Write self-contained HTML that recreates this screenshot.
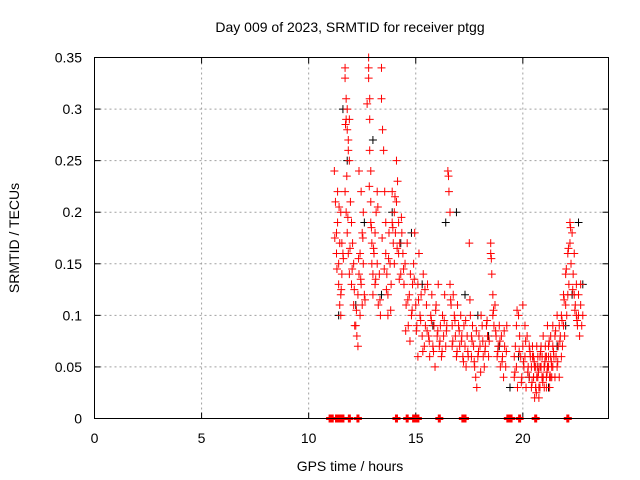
<!DOCTYPE html>
<html><head><meta charset="utf-8"><style>
body{margin:0;background:#fff;}
svg{display:block;font-family:"Liberation Sans",sans-serif;}
</style></head><body>
<svg id="chart" width="640" height="480">
<text x="350" y="32" text-anchor="middle" font-size="14">Day 009 of 2023, SRMTID for receiver ptgg</text>
<text x="350" y="471" text-anchor="middle" font-size="14">GPS time / hours</text>
<text transform="translate(19,238) rotate(-90)" text-anchor="middle" font-size="14">SRMTID / TECUs</text>
<g id="grid"></g><g id="ticks"></g><g id="black"></g><g id="red"></g>
<rect x="94.5" y="57.5" width="514" height="361" fill="none" stroke="#000"/>
</svg>
<script>
const xTicks=[0,5,10,15,20];
const yTicks=[0,0.05,0.1,0.15,0.2,0.25,0.3,0.35];
const yTickLabels=["0","0.05","0.1","0.15","0.2","0.25","0.3","0.35"];
const zeroTimes=[11.0,11.05,11.1,11.3,11.35,11.4,11.5,11.6,11.9,12.3,14.1,14.6,14.9,15.0,15.1,16.1,17.2,17.3,19.3,19.35,19.4,19.45,19.85,20.6,22.1];
const redTimes=[
11.2,11.25,11.3,11.3,11.35,11.4,11.4,11.45,11.5,11.5,11.55,11.6,11.35,11.45,11.5,11.55,
11.7,11.7,11.75,11.75,11.8,11.8,11.85,11.85,11.9,11.9,11.7,11.75,11.8,11.85,11.9,11.95,12.0,12.0,12.05,12.1,12.1,12.15,
12.2,12.25,12.3,12.3,12.35,12.4,12.4,12.45,12.5,12.5,12.55,12.6,12.35,12.45,12.55,
12.8,12.8,12.8,12.85,12.85,12.85,12.9,12.9,12.9,12.95,12.95,13.0,13.0,13.05,13.1,13.1,13.15,13.2,13.2,13.25,13.3,
13.35,13.4,13.4,13.45,13.5,13.55,13.6,13.6,13.65,13.7,13.7,13.75,13.8,13.85,
13.9,13.9,13.95,14.0,14.0,14.05,14.1,14.1,14.15,14.2,14.2,14.25,14.3,14.35,14.4,14.45,14.5,14.55,14.6,14.65,14.7,14.75,14.8,14.85,
14.9,14.95,15.0,15.05,15.1,15.1,15.15,15.2,15.25,15.3,15.35,15.4,15.45,15.5,15.55,15.6,15.65,15.7,15.75,15.8,15.85,15.9,
15.95,16.0,16.05,16.1,16.15,16.2,16.25,16.3,16.35,16.4,16.45,
16.5,16.55,16.6,16.6,16.65,16.7,16.7,16.75,16.8,16.85,16.9,16.95,17.0,17.05,17.1,17.15,17.2,17.25,17.3,17.35,17.4,17.45,
17.5,17.55,17.6,17.6,17.65,17.7,17.75,17.8,17.85,17.9,17.95,18.0,18.05,18.1,18.15,18.2,18.25,18.3,18.35,18.4,
18.5,18.5,18.55,18.6,18.6,18.65,18.7,18.75,18.8,18.85,18.9,18.95,19.0,19.05,19.1,19.15,19.2,19.25,
19.6,19.6,19.65,19.7,19.7,19.75,19.8,19.85,19.9,19.95,20.0,20.0,20.05,20.1,20.1,20.15,20.2,20.25,20.3,20.3,20.35,20.4,20.4,20.45,20.5,20.5,20.55,20.6,20.6,20.65,20.7,20.7,20.75,20.8,20.8,20.85,20.9,20.9,20.95,21.0,21.0,21.05,21.1,21.1,21.15,21.2,21.2,21.25,21.3,21.3,21.35,21.4,21.4,21.45,21.5,21.5,21.55,21.6,21.6,21.65,21.7,21.7,
21.75,21.8,21.8,21.85,21.9,21.9,21.95,22.0,22.0,22.05,22.1,22.1,22.15,22.2,22.2,22.25,22.3,22.35,22.4,22.4,22.45,22.5,22.5,22.55,22.6,22.6,22.65,22.7,22.7,22.75,22.8,
20.5,20.6,20.7,20.8,20.9,21.0,21.1,21.2,21.3,21.4,20.45,20.55,20.65,20.75,20.85,20.95,21.05,21.15,21.25,21.35,
11.22,11.32,11.42,11.52,11.62,11.72,11.78,11.83,11.93,12.03,12.13,12.23,12.33,12.43,12.53,12.63,12.73,12.83,12.93,13.03,13.13,13.23,13.33,13.43,13.53,13.63,13.73,13.83,13.93,14.03,14.13,14.23,14.33,14.43,14.53,14.63,14.73,14.83,14.93,15.03,15.13,15.23,15.33,15.43,15.53,15.63,15.73,15.83,15.93,16.03,16.13,16.23,16.33,16.43,16.53,16.63,16.73,16.83,16.93,17.03,17.13,17.23,17.33,17.43,17.53,17.63,17.73,17.83,17.93,18.03,18.13,18.23,18.33,18.43,18.53,18.63,18.73,18.83,18.93,19.03,19.13,19.23,19.63,19.73,19.83,19.93,20.03,20.13,20.23,20.33,20.43,20.53,20.63,20.73,20.83,20.93,21.03,21.13,21.23,21.33,21.43,21.53,21.63,21.73,21.83,21.93,22.03,22.13,22.23,22.33,22.43,22.53,22.63,22.73
];
const redValues=[
0.24,0.21,0.18,0.16,0.19,0.15,0.13,0.17,0.12,0.10,0.14,0.16,0.22,0.11,0.20,0.17,
0.34,0.33,0.31,0.29,0.30,0.28,0.27,0.26,0.25,0.29,0.22,0.20,0.18,0.16,0.14,0.21,0.19,0.13,0.17,0.15,0.11,0.09,
0.09,0.08,0.07,0.12,0.14,0.10,0.16,0.13,0.18,0.11,0.15,0.12,0.24,0.22,0.20,
0.35,0.34,0.33,0.31,0.29,0.26,0.24,0.21,0.19,0.17,0.15,0.14,0.12,0.16,0.18,0.13,0.20,0.22,0.15,0.11,0.14,
0.10,0.34,0.31,0.28,0.26,0.22,0.19,0.16,0.14,0.12,0.10,0.18,0.15,0.13,
0.22,0.19,0.17,0.20,0.15,0.18,0.25,0.21,0.23,0.19,0.16,0.17,0.14,0.18,0.16,0.13,0.15,0.11,0.17,0.09,0.12,0.14,0.10,0.13,
0.15,0.18,0.11,0.09,0.13,0.06,0.16,0.10,0.12,0.08,0.14,0.07,0.09,0.11,0.13,0.08,0.06,0.10,0.12,0.07,0.09,0.05,
0.11,0.08,0.13,0.07,0.09,0.06,0.10,0.08,0.12,0.07,0.09,
0.24,0.22,0.20,0.13,0.11,0.09,0.07,0.12,0.10,0.08,0.06,0.11,0.09,0.07,0.10,0.08,0.06,0.09,0.07,0.05,0.08,0.06,
0.17,0.10,0.08,0.06,0.09,0.07,0.05,0.04,0.03,0.06,0.08,0.07,0.10,0.09,0.06,0.05,0.07,0.09,0.08,0.06,
0.17,0.16,0.14,0.12,0.10,0.09,0.11,0.08,0.06,0.07,0.09,0.05,0.08,0.06,0.04,0.07,0.05,0.09,
0.04,0.06,0.07,0.05,0.09,0.03,0.10,0.08,0.06,0.04,0.11,0.07,0.05,0.09,0.06,0.03,0.08,0.05,0.07,0.04,0.06,0.05,0.03,0.07,0.04,0.06,0.02,0.05,0.03,0.07,0.04,0.06,0.02,0.05,0.03,0.07,0.04,0.06,0.08,0.05,0.03,0.07,0.04,0.06,0.09,0.05,0.07,0.04,0.06,0.08,0.05,0.07,0.09,0.06,0.04,0.08,0.06,0.10,0.05,0.07,0.09,0.04,
0.08,0.06,0.10,0.07,0.09,0.12,0.08,0.11,0.14,0.10,0.12,0.16,0.13,0.19,0.17,0.15,0.18,0.14,0.16,0.12,0.11,0.10,0.13,0.09,0.12,0.10,0.08,0.11,0.13,0.09,0.10,
0.04,0.03,0.05,0.06,0.04,0.05,0.03,0.06,0.04,0.05,0.06,0.05,0.04,0.03,0.05,0.04,0.06,0.05,0.03,0.04,
0.175,0.145,0.205,0.125,0.155,0.285,0.235,0.195,0.165,0.145,0.125,0.105,0.155,0.135,0.175,0.115,0.305,0.225,0.185,0.165,0.135,0.205,0.115,0.175,0.145,0.125,0.155,0.105,0.185,0.215,0.165,0.135,0.195,0.145,0.085,0.115,0.075,0.105,0.135,0.085,0.115,0.095,0.065,0.125,0.085,0.075,0.095,0.065,0.105,0.085,0.075,0.065,0.095,0.085,0.235,0.115,0.075,0.095,0.065,0.085,0.075,0.055,0.095,0.065,0.115,0.075,0.055,0.085,0.065,0.045,0.075,0.065,0.095,0.075,0.155,0.105,0.085,0.065,0.075,0.055,0.085,0.065,0.045,0.105,0.065,0.035,0.055,0.075,0.045,0.065,0.035,0.055,0.025,0.045,0.065,0.035,0.055,0.045,0.075,0.055,0.065,0.085,0.055,0.075,0.095,0.115,0.145,0.165,0.185,0.125,0.105,0.095
];
const blackTimes=[11.4,11.6,11.8,12.2,12.6,13.0,13.4,13.9,14.3,14.8,15.3,15.8,16.4,16.9,17.3,17.9,18.4,18.9,19.4,19.8,20.3,20.7,21.2,21.6,22.0,22.3,22.6,22.8];
const blackValues=[0.10,0.30,0.25,0.11,0.19,0.27,0.12,0.20,0.17,0.18,0.13,0.09,0.19,0.20,0.12,0.10,0.08,0.07,0.03,0.06,0.04,0.05,0.03,0.07,0.09,0.12,0.19,0.13];
const X0=94.5,X1=608.5,Y0=418.5,Y1=57.5,XMAX=24,YMAX=0.35;
const xs=t=>X0+t/XMAX*(X1-X0);
const ys=v=>Y0-v/YMAX*(Y0-Y1);
const NS="http://www.w3.org/2000/svg";
function mk(tag,attrs,parent){const e=document.createElementNS(NS,tag);for(const k in attrs)e.setAttribute(k,attrs[k]);parent.appendChild(e);return e;}
const grid=document.getElementById('grid'),ticks=document.getElementById('ticks');
xTicks.forEach(t=>{
  const x=xs(t);
  if(t>0){const g=mk('line',{x1:x,x2:x,y1:Y1,y2:Y0,stroke:'#a0a0a0','stroke-dasharray':'2,3'},grid);
  
  }
  mk('line',{x1:x,x2:x,y1:Y0,y2:Y0-6,stroke:'#000'},ticks);
  mk('line',{x1:x,x2:x,y1:Y1,y2:Y1+6,stroke:'#000'},ticks);
  const l=mk('text',{x:x,y:443,'text-anchor':'middle','font-size':14},ticks);l.textContent=t;
  
  
});
yTicks.forEach((v,i)=>{
  const y=ys(v);
  if(v>0&&v<YMAX){const g=mk('line',{x1:X0,x2:X1,y1:y,y2:y,stroke:'#a0a0a0','stroke-dasharray':'2,3'},grid);
  
  }
  mk('line',{x1:X0,x2:X0+6,y1:y,y2:y,stroke:'#000'},ticks);
  mk('line',{x1:X1,x2:X1-6,y1:y,y2:y,stroke:'#000'},ticks);
  const l=mk('text',{x:82,y:y+5,'text-anchor':'end','font-size':14},ticks);l.textContent=yTickLabels[i];
  
  
});
function plus(g,t,v,col){
  const x=xs(t),y=ys(v);
  return mk('path',{d:`M${x-4},${y}H${x+4}M${x},${y-4}V${y+4}`,stroke:col,'stroke-width':1},g);
}
const bg=document.getElementById('black'),rg=document.getElementById('red');
blackTimes.forEach((t,i)=>{const p=plus(bg,t,blackValues[i],'#000');
  
  });
redTimes.forEach((t,i)=>{const p=plus(rg,t,redValues[i],'#f00');
  
  });
zeroTimes.forEach(t=>{const p=plus(rg,t,0,'#f00');p.setAttribute('stroke-width',3);
  
  });
</script>
</body></html>
